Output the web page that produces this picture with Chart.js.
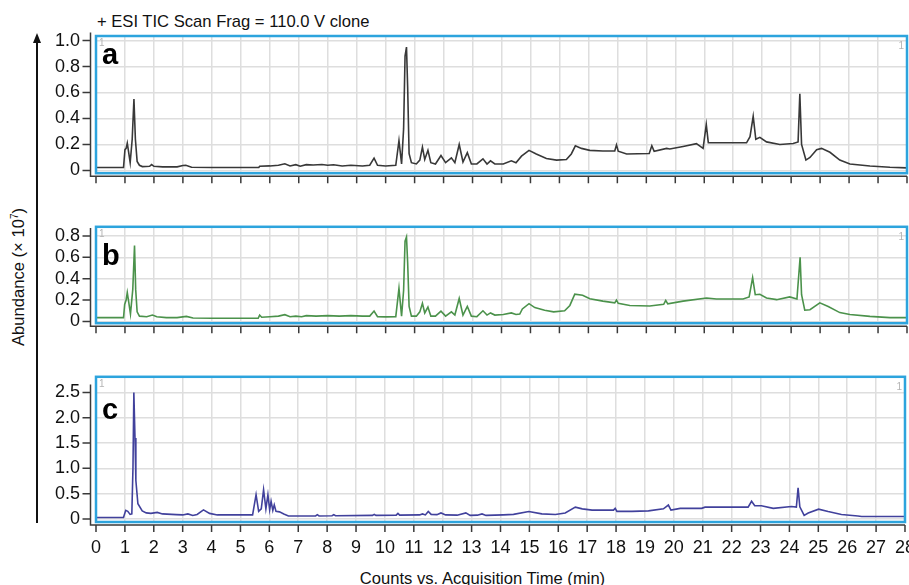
<!DOCTYPE html>
<html>
<head>
<meta charset="utf-8">
<script src="https://cdn.jsdelivr.net/npm/chart.js@4.4.1/dist/chart.umd.min.js"></script>
<style>
html, body { margin: 0; padding: 0; background: #fff; overflow: hidden; width: 909px; height: 585px; }
body { position: relative; font-family: "Liberation Sans", Arial, sans-serif; color: #111; }
canvas { position: absolute; left: 0; }
#title { position: absolute; left: 97px; top: 12px; font-size: 16.6px; white-space: nowrap; }
#xtitle { position: absolute; left: 0; width: 965px; text-align: center; top: 569px; font-size: 16.6px; white-space: nowrap; }
#ytitle { position: absolute; left: 19px; top: 277px; transform: translate(-50%, -50%) rotate(-90deg); font-size: 16.6px; white-space: nowrap; }
#ytitle sup { font-size: 10px; }
#arrow { position: absolute; left: 0; top: 0; }
</style>
</head>
<body>
<div id="title">+ ESI TIC Scan Frag = 110.0 V clone</div>
<div id="ytitle">Abundance (× 10<sup>7</sup>)</div>
<div id="xtitle">Counts vs. Acquisition Time (min)</div>
<svg id="arrow" width="60" height="585">
  <line x1="37" y1="40" x2="37" y2="523" stroke="#111" stroke-width="2"/>
  <polygon points="37,33 33,43 41,43" fill="#111"/>
</svg>
<canvas id="ca" width="930" height="200" style="top:0px"></canvas>
<canvas id="cb" width="930" height="150" style="top:200px"></canvas>
<canvas id="cc" width="930" height="235" style="top:350px"></canvas>
<script>
// retention time (min) and abundance (x 10^7)
const xTicks = [0,1,2,3,4,5,6,7,8,9,10,11,12,13,14,15,16,17,18,19,20,21,22,23,24,25,26,27,28];

const timeA = [0,0.95,1.0,1.04,1.08,1.12,1.18,1.25,1.31,1.36,1.42,1.5,1.6,1.85,1.92,2.0,2.3,2.8,3.0,3.1,3.3,4.0,5.0,5.62,5.65,6.0,6.3,6.52,6.7,6.9,7.05,7.26,7.5,7.8,8.0,8.2,8.5,8.8,9.2,9.45,9.6,9.72,10.0,10.35,10.46,10.55,10.62,10.67,10.72,10.76,10.81,10.89,11.06,11.18,11.27,11.35,11.46,11.56,11.72,11.91,12.07,12.27,12.39,12.54,12.67,12.82,12.96,13.15,13.36,13.5,13.62,13.77,14.06,14.34,14.5,14.69,14.95,15.2,15.55,15.9,16.24,16.41,16.55,16.76,17.05,17.5,17.91,17.97,18.03,18.32,19.1,19.19,19.27,19.7,19.81,20.27,20.73,20.96,21.07,21.14,21.31,22.0,22.46,22.58,22.69,22.78,22.92,23.15,23.61,24.07,24.24,24.3,24.36,24.51,24.65,24.88,25.05,25.34,25.68,26.03,26.72,27.41,28];
const abundA = [0.023,0.023,0.16,0.17,0.21,0.15,0.06,0.24,0.55,0.24,0.07,0.04,0.03,0.032,0.045,0.032,0.028,0.028,0.038,0.04,0.025,0.023,0.023,0.023,0.032,0.035,0.04,0.052,0.035,0.045,0.033,0.045,0.042,0.046,0.04,0.044,0.035,0.04,0.035,0.04,0.095,0.04,0.035,0.04,0.23,0.05,0.32,0.88,0.95,0.64,0.13,0.06,0.05,0.08,0.18,0.085,0.155,0.06,0.05,0.115,0.06,0.097,0.06,0.2,0.065,0.137,0.05,0.05,0.09,0.05,0.074,0.05,0.05,0.074,0.06,0.11,0.155,0.127,0.092,0.08,0.085,0.127,0.19,0.17,0.155,0.15,0.15,0.197,0.148,0.127,0.13,0.19,0.148,0.17,0.165,0.185,0.206,0.17,0.354,0.214,0.213,0.213,0.213,0.26,0.417,0.24,0.255,0.22,0.2,0.208,0.22,0.59,0.2,0.08,0.1,0.16,0.17,0.14,0.08,0.05,0.035,0.025,0.02];

const timeB = [0,0.95,0.99,1.04,1.08,1.13,1.19,1.27,1.33,1.37,1.42,1.5,1.75,1.95,2.1,2.43,2.8,3.12,3.35,4.0,5.0,5.6,5.65,5.72,6.0,6.3,6.52,6.7,6.9,7.1,7.26,7.6,8.0,8.4,8.8,9.2,9.45,9.6,9.72,10.0,10.35,10.46,10.55,10.62,10.67,10.72,10.76,10.81,10.89,11.06,11.18,11.27,11.35,11.46,11.56,11.72,11.91,12.07,12.27,12.39,12.54,12.67,12.82,12.96,13.15,13.36,13.5,13.62,13.77,14.06,14.34,14.5,14.63,14.72,14.95,15.15,15.49,15.8,16.18,16.36,16.53,16.8,17.05,17.5,17.91,17.97,18.03,18.43,19.12,19.6,19.67,19.74,20.27,21.08,21.42,22.34,22.55,22.67,22.76,22.92,23.15,23.5,23.95,24.2,24.31,24.36,24.47,24.65,24.99,25.28,25.68,26.03,26.72,27.41,28];
const abundB = [0.036,0.036,0.16,0.2,0.27,0.18,0.07,0.3,0.71,0.3,0.09,0.05,0.045,0.06,0.045,0.036,0.036,0.048,0.032,0.03,0.03,0.03,0.06,0.04,0.045,0.05,0.064,0.045,0.05,0.045,0.055,0.05,0.055,0.05,0.055,0.05,0.05,0.098,0.045,0.043,0.045,0.31,0.05,0.29,0.75,0.79,0.55,0.14,0.05,0.05,0.09,0.17,0.08,0.135,0.05,0.05,0.096,0.05,0.09,0.06,0.215,0.06,0.14,0.05,0.045,0.1,0.06,0.08,0.06,0.065,0.08,0.065,0.07,0.117,0.167,0.13,0.105,0.09,0.1,0.15,0.255,0.245,0.213,0.19,0.174,0.2,0.17,0.15,0.145,0.16,0.197,0.165,0.19,0.22,0.21,0.21,0.23,0.41,0.25,0.254,0.22,0.204,0.23,0.21,0.6,0.25,0.105,0.11,0.174,0.14,0.083,0.065,0.048,0.036,0.036];

const timeC = [0,0.95,1.03,1.1,1.18,1.24,1.28,1.31,1.35,1.38,1.45,1.6,1.74,1.9,2.12,2.3,2.78,3.0,3.18,3.35,3.5,3.72,3.93,4.2,5.0,5.42,5.54,5.63,5.72,5.8,5.88,5.95,6.01,6.06,6.12,6.17,6.23,6.35,6.5,6.66,7.0,7.6,7.66,7.72,8.17,8.23,8.29,9.57,9.63,9.69,10.39,10.45,10.51,11.2,11.3,11.4,11.5,11.6,11.8,11.94,12.1,12.5,12.8,12.95,13.2,13.36,13.5,14.1,14.45,14.98,15.43,15.9,16.24,16.59,16.83,17.17,17.91,17.97,18.03,18.55,19.12,19.64,19.81,19.9,20.22,20.96,21.08,21.42,22.57,22.69,22.8,23.03,23.44,24.07,24.24,24.3,24.36,24.51,24.65,25.01,25.34,25.8,26.37,26.5,28];
const abundC = [0.03,0.03,0.17,0.15,0.09,0.1,1.02,2.5,1.6,0.76,0.3,0.16,0.12,0.11,0.13,0.1,0.085,0.08,0.1,0.07,0.09,0.18,0.11,0.08,0.08,0.08,0.48,0.15,0.2,0.58,0.2,0.48,0.18,0.35,0.17,0.28,0.15,0.14,0.1,0.06,0.06,0.06,0.085,0.06,0.065,0.085,0.065,0.07,0.09,0.07,0.075,0.11,0.075,0.08,0.1,0.08,0.15,0.09,0.085,0.12,0.08,0.075,0.12,0.07,0.075,0.1,0.07,0.08,0.09,0.146,0.1,0.088,0.117,0.234,0.2,0.175,0.175,0.21,0.15,0.15,0.16,0.2,0.275,0.175,0.21,0.21,0.234,0.234,0.234,0.35,0.26,0.26,0.21,0.245,0.235,0.615,0.24,0.07,0.117,0.193,0.146,0.088,0.06,0.05,0.05];

const ticksA = [0, 0.2, 0.4, 0.6, 0.8, 1.0];
const ticksB = [0, 0.2, 0.4, 0.6, 0.8];
const ticksC = [0, 0.5, 1.0, 1.5, 2.0, 2.5];

const font = '"Liberation Sans", Arial, sans-serif';

const panels = [
    { id: 'ca', letter: 'a', t: timeA, v: abundA, color: '#383838', yTicks: ticksA, yMin: -0.021, yMax: 1.035, padTop: 36, padBottom: 12, xh: 0, letterY: 28, labels: false },
    { id: 'cb', letter: 'b', t: timeB, v: abundB, color: '#4b924b', yTicks: ticksB, yMin: -0.016, yMax: 0.885, padTop: 8, padBottom: 10, xh: 0, letterY: 38, labels: false },
    { id: 'cc', letter: 'c', t: timeC, v: abundC, color: '#41419c', yTicks: ticksC, yMin: -0.06, yMax: 2.81, padTop: 8, padBottom: 0, xh: 63, letterY: 42, labels: true }
];

// offset axes, blue frame, panel letter and the little "1" marks
function framePlugin(p) {
    return {
        id: 'frame' + p.letter,
        afterDraw(chart) {
            const ctx = chart.ctx;
            const a = chart.chartArea;
            const x = chart.scales.x, y = chart.scales.y;
            ctx.save();
            ctx.strokeStyle = '#3a3a3a';
            ctx.lineWidth = 1.5;
            const ax = a.left - 5.5, ay = a.bottom + 3;
            ctx.beginPath();
            ctx.moveTo(ax, y.getPixelForValue(p.yTicks[p.yTicks.length - 1]) - 8);
            ctx.lineTo(ax, ay);
            ctx.lineTo(a.right, ay);
            p.yTicks.forEach(v => {
                const py = y.getPixelForValue(v);
                ctx.moveTo(ax - 8, py);
                ctx.lineTo(ax, py);
            });
            xTicks.forEach(v => {
                const px = x.getPixelForValue(v);
                ctx.moveTo(px, ay);
                ctx.lineTo(px, ay + 7);
            });
            ctx.stroke();

            ctx.strokeStyle = '#2da4dd';
            ctx.lineWidth = 2.5;
            ctx.strokeRect(a.left, a.top, a.right - a.left, a.bottom - a.top);

            ctx.fillStyle = '#000000';
            ctx.font = 'bold 29px ' + font;
            ctx.textBaseline = 'alphabetic';
            ctx.textAlign = 'left';
            ctx.fillText(p.letter, a.left + 6, a.top + p.letterY);

            ctx.fillStyle = '#b4b4b4';
            ctx.font = '10px ' + font;
            ctx.fillText('1', a.left + 3, a.top + 10);
            ctx.textAlign = 'right';
            ctx.fillText('1', a.right - 3, a.top + 13);
            ctx.restore();
        }
    };
}

panels.forEach(p => {
    const ctx = document.getElementById(p.id).getContext('2d');
    new Chart(ctx, {
        type: 'line',
        data: {
            datasets: [{
                data: p.t.map((t, i) => ({ x: t, y: p.v[i] })),
                borderColor: p.color,
                borderWidth: 1.6,
                pointRadius: 0,
                tension: 0,
                fill: false
            }]
        },
        options: {
            responsive: false,
            animation: false,
            events: [],
            layout: { padding: { left: 0, right: 23, top: p.padTop, bottom: p.padBottom } },
            plugins: {
                legend: { display: false },
                tooltip: { enabled: false }
            },
            scales: {
                x: {
                    type: 'linear',
                    min: 0,
                    max: 28,
                    afterBuildTicks: s => { s.ticks = xTicks.map(v => ({ value: v })); },
                    afterFit: s => { s.height = p.xh; },
                    border: { display: false },
                    grid: { color: '#dedede', lineWidth: 1.5, drawTicks: false },
                    ticks: { display: p.labels, padding: 15, color: '#111', maxRotation: 0, autoSkip: false, font: { size: 18, family: font } }
                },
                y: {
                    min: p.yMin,
                    max: p.yMax,
                    afterBuildTicks: s => { s.ticks = p.yTicks.map(v => ({ value: v })); },
                    afterFit: s => { s.width = 96; },
                    border: { display: false },
                    grid: { color: '#dedede', lineWidth: 1.5, drawTicks: false },
                    ticks: {
                        padding: 16,
                        color: '#111',
                        font: { size: 18, family: font },
                        callback: v => v === 0 ? '0' : v.toFixed(1)
                    }
                }
            }
        },
        plugins: [framePlugin(p)]
    });
});
</script>
</body>
</html>
